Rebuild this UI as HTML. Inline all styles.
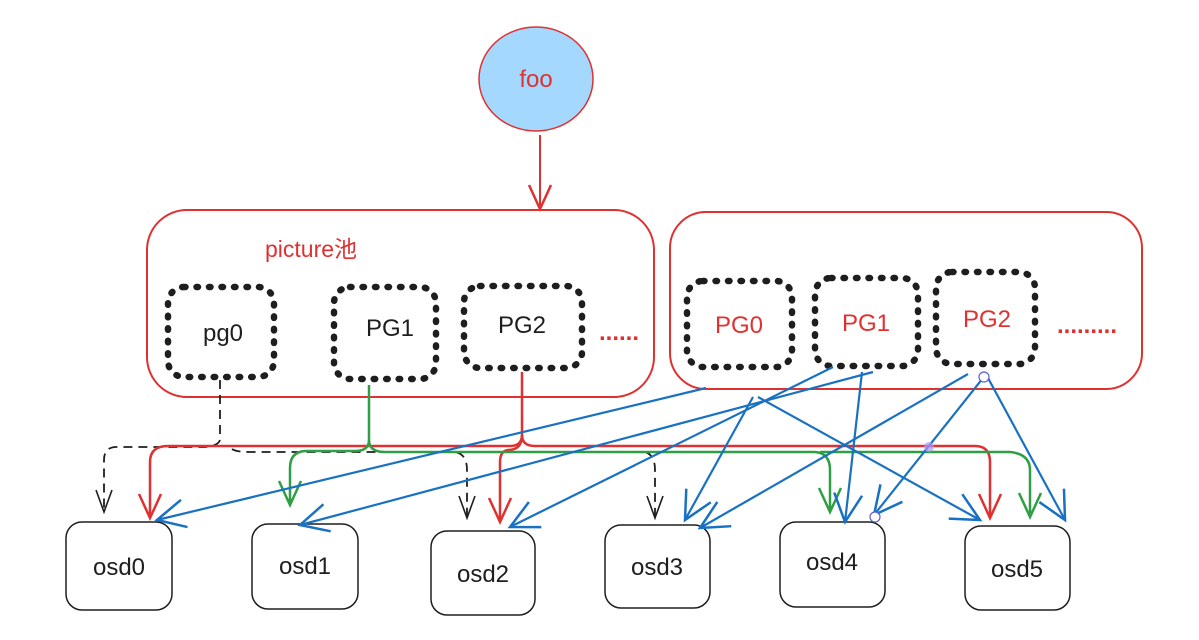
<!DOCTYPE html>
<html><head><meta charset="utf-8"><style>
html,body{margin:0;padding:0;background:#fff;}
svg{display:block}
text{font-family:"Liberation Sans","Noto Sans CJK SC",sans-serif;}
</style></head><body>
<svg width="1199" height="640" viewBox="0 0 1199 640" xmlns="http://www.w3.org/2000/svg">
<defs>
<marker id="ar" markerWidth="40" markerHeight="40" refX="30" refY="20" orient="auto" markerUnits="userSpaceOnUse" viewBox="0 0 40 40"><path d="M6 9 L30 20 L6 31" fill="none" stroke="#e03131" stroke-width="2.5"/></marker>
<marker id="ag" markerWidth="40" markerHeight="40" refX="30" refY="20" orient="auto" markerUnits="userSpaceOnUse" viewBox="0 0 40 40"><path d="M6 9 L30 20 L6 31" fill="none" stroke="#2f9e44" stroke-width="2.5"/></marker>
<marker id="ak" markerWidth="40" markerHeight="40" refX="30" refY="20" orient="auto" markerUnits="userSpaceOnUse" viewBox="0 0 40 40"><path d="M8 12 L30 20 L8 28" fill="none" stroke="#1e1e1e" stroke-width="1.6"/></marker>
<marker id="ab" markerWidth="50" markerHeight="50" refX="38" refY="25" orient="auto" markerUnits="userSpaceOnUse" viewBox="0 0 50 50"><path d="M10 11 L38 25 L10 39" fill="none" stroke="#1971c2" stroke-width="2.5"/></marker>
</defs>

<!-- foo -->
<ellipse cx="536" cy="79" rx="57" ry="52" fill="#a5d8ff" stroke="#e03131" stroke-width="1.5"/>
<text x="536" y="87" font-size="24" fill="#e03131" text-anchor="middle">foo</text>
<line x1="540" y1="135" x2="540" y2="209" stroke="#e03131" stroke-width="2" marker-end="url(#ar)"/>

<!-- pools -->
<rect x="147" y="210" width="507" height="187" rx="40" fill="none" stroke="#e03131" stroke-width="2"/>
<rect x="670" y="212" width="472" height="177" rx="36" fill="none" stroke="#e03131" stroke-width="2"/>
<text x="265" y="257" font-size="23" fill="#e03131">picture池</text>

<g fill="none" stroke="#1e1e1e" stroke-width="6.5" stroke-linecap="round" stroke-dasharray="1.5 11">
<rect x="168" y="287" width="106" height="90" rx="16"/>
<rect x="334" y="287" width="102" height="92" rx="16"/>
<rect x="464" y="286" width="118" height="82" rx="16"/>
<rect x="687" y="281" width="105" height="86" rx="16"/>
<rect x="815" y="278" width="103" height="88" rx="16"/>
<rect x="936" y="272" width="99" height="92" rx="16"/>
</g>
<g font-size="24" text-anchor="middle">
<text x="223" y="341" fill="#1e1e1e">pg0</text>
<text x="390" y="336" fill="#1e1e1e">PG1</text>
<text x="522" y="333" fill="#1e1e1e">PG2</text>
<text x="739" y="333" fill="#e03131">PG0</text>
<text x="866" y="331" fill="#e03131">PG1</text>
<text x="987" y="327" fill="#e03131">PG2</text>
</g>
<text x="599" y="340" font-size="24" fill="#e03131" font-weight="bold">......</text>
<text x="1057" y="333" font-size="24" fill="#e03131" font-weight="bold">.........</text>

<!-- osd boxes -->
<g fill="none" stroke="#1e1e1e" stroke-width="1.5">
<rect x="66" y="522" width="106" height="88" rx="16"/>
<rect x="252" y="524" width="106" height="85" rx="16"/>
<rect x="431" y="531" width="104" height="84" rx="16"/>
<rect x="605" y="525" width="105" height="83" rx="16"/>
<rect x="780" y="522" width="105" height="85" rx="16"/>
<rect x="965" y="526" width="105" height="84" rx="16"/>
</g>
<g font-size="24" fill="#1e1e1e" text-anchor="middle">
<text x="119" y="575">osd0</text>
<text x="305" y="574">osd1</text>
<text x="483" y="582">osd2</text>
<text x="657" y="575">osd3</text>
<text x="832" y="570">osd4</text>
<text x="1017" y="577">osd5</text>
</g>

<!-- black dashed -->
<g fill="none" stroke="#1e1e1e" stroke-width="1.8" stroke-dasharray="9 6">
<path d="M220 380 L220 440 Q218 446 205 447 L115 447 Q104 448 104 460 L104 512" marker-end="url(#ak)"/>
<path d="M232 449 Q236 452 250 452 L455 452 Q467 454 467 470 L467 518" marker-end="url(#ak)"/>
<path d="M450 452 L645 452 Q655 455 655 470 L655 518" marker-end="url(#ak)"/>
</g>

<!-- red -->
<g fill="none" stroke="#e03131" stroke-width="2.5">
<path d="M522 372 L522 435 Q522 446 510 446 L168 446 Q150 446 150 462 L150 518" marker-end="url(#ar)"/>
<path d="M522 435 Q522 446 535 446 L975 446 Q990 446 990 462 L990 518" marker-end="url(#ar)"/>
<path d="M522 435 Q522 450 508 450 Q500 451 500 462 L500 522" marker-end="url(#ar)"/>
</g>

<!-- green -->
<g fill="none" stroke="#2f9e44" stroke-width="2.5">
<path d="M369 385 L369 440 Q369 451 355 451 L305 451 Q290 452 290 468 L290 505" marker-end="url(#ag)"/>
<path d="M369 440 Q369 452 385 452 L815 452 Q830 453 830 470 L830 512" marker-end="url(#ag)"/>
<path d="M820 452 L1010 452 Q1030 454 1030 470 L1030 517" marker-end="url(#ag)"/>
</g>

<!-- blue -->
<g fill="none" stroke="#1971c2" stroke-width="2.2">
<line x1="706" y1="388" x2="157" y2="520" marker-end="url(#ab)"/>
<line x1="873" y1="372" x2="300" y2="525" marker-end="url(#ab)"/>
<line x1="833" y1="367" x2="510" y2="527" marker-end="url(#ab)"/>
<line x1="862" y1="372" x2="845" y2="522" marker-end="url(#ab)"/>
<line x1="753" y1="397" x2="685" y2="520" marker-end="url(#ab)"/>
<line x1="758" y1="397" x2="980" y2="520" marker-end="url(#ab)"/>
<line x1="968" y1="374" x2="700" y2="528" marker-end="url(#ab)"/>
<line x1="983" y1="378" x2="874" y2="515" marker-end="url(#ab)"/>
<line x1="988" y1="378" x2="1065" y2="520" marker-end="url(#ab)"/>
</g>
<circle cx="984" cy="377" r="5" fill="#fff" stroke="#5c5fd6" stroke-width="1.2"/>
<circle cx="875" cy="517" r="5" fill="#fff" stroke="#5c5fd6" stroke-width="1.2"/>
<circle cx="929" cy="447" r="5" fill="#b197fc" opacity="0.7"/>
</svg>
</body></html>
